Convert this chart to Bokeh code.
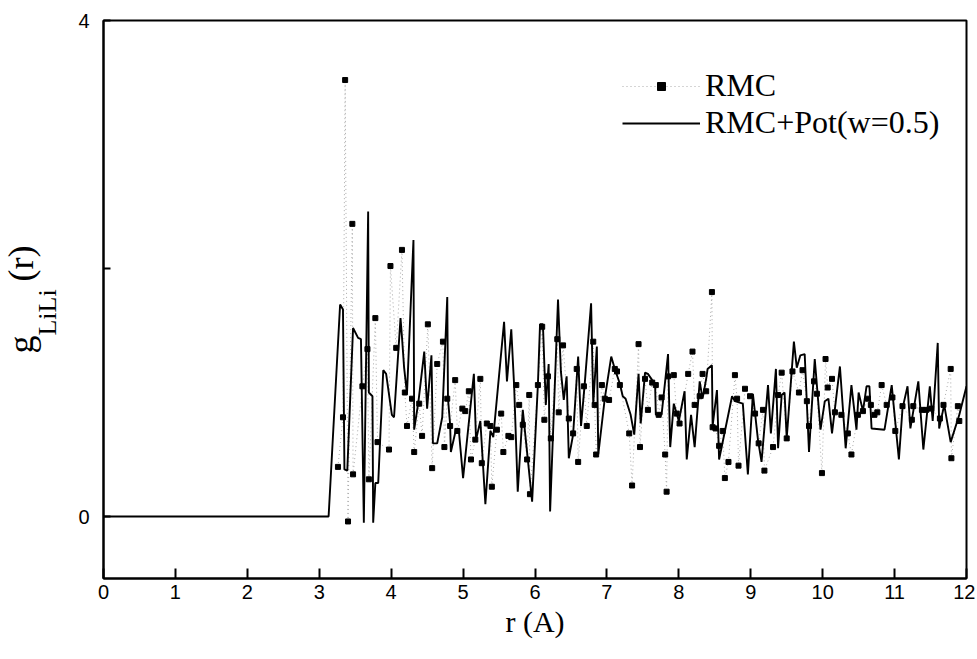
from bokeh.plotting import figure
from bokeh.models import FixedTicker, Legend, LegendItem, Title
from bokeh.embed import file_html
from bokeh.resources import INLINE

# RMC+Pot(w=0.5) curve (solid line)
r_pot = [0.0, 3.13, 3.29, 3.33, 3.35, 3.39, 3.47, 3.54, 3.58, 3.62, 3.68, 3.69, 3.74, 3.75,
         3.78, 3.82, 3.89, 3.93, 4.01, 4.04, 4.13, 4.15, 4.18, 4.22, 4.31, 4.32, 4.38, 4.46,
         4.50, 4.56, 4.58, 4.64, 4.71, 4.78, 4.79, 4.82, 4.83, 4.90, 4.94, 5.00, 5.15, 5.18,
         5.24, 5.31, 5.38, 5.42, 5.57, 5.61, 5.67, 5.71, 5.76, 5.83, 5.96, 6.04, 6.07, 6.11,
         6.15, 6.19, 6.21, 6.32, 6.36, 6.40, 6.44, 6.47, 6.53, 6.60, 6.64, 6.69, 6.78, 6.81,
         6.86, 6.88, 6.97, 7.06, 7.11, 7.18, 7.22, 7.26, 7.33, 7.38, 7.44, 7.47, 7.53, 7.57,
         7.63, 7.67, 7.68, 7.76, 7.85, 7.88, 7.93, 8.00, 8.08, 8.11, 8.17, 8.22, 8.29, 8.33,
         8.38, 8.40, 8.46, 8.47, 8.53, 8.56, 8.74, 8.78, 8.89, 8.96, 9.03, 9.10, 9.15, 9.24,
         9.28, 9.35, 9.38, 9.43, 9.47, 9.50, 9.60, 9.64, 9.69, 9.75, 9.81, 9.89, 9.97, 10.03,
         10.08, 10.13, 10.24, 10.32, 10.40, 10.47, 10.50, 10.56, 10.61, 10.65, 10.68, 10.86,
         10.96, 11.06, 11.11, 11.18, 11.22, 11.33, 11.40, 11.49, 11.53, 11.60, 11.62, 11.69,
         11.78, 11.90, 12.0]
g_pot = [0.0, 0.0, 1.71, 1.67, 0.38, 0.37, 1.52, 1.44, 1.43, -0.05, 2.46, 1.00, 0.97, -0.05,
         0.27, 0.27, 1.18, 1.15, 0.82, 0.80, 1.60, 1.45, 1.20, 0.99, 2.23, 0.70, 0.93, 1.33,
         0.87, 1.30, 0.59, 0.59, 0.80, 1.77, 0.95, 0.74, 0.52, 0.70, 0.70, 0.31, 1.15, 0.62,
         0.77, 0.10, 0.69, 0.64, 1.57, 1.09, 1.51, 1.05, 0.20, 0.86, 0.12, 1.06, 1.55, 1.55,
         0.90, 1.23, 0.04, 1.75, 1.17, 0.94, 1.13, 0.47, 0.66, 1.29, 0.73, 1.06, 1.72, 0.91,
         1.37, 0.50, 0.95, 1.29, 1.19, 1.07, 0.97, 0.95, 0.82, 0.66, 1.15, 0.75, 1.16, 1.15,
         1.10, 1.07, 0.82, 0.82, 1.31, 0.56, 0.91, 0.77, 1.01, 0.46, 0.82, 0.56, 1.09, 0.95,
         1.11, 1.19, 1.22, 0.73, 1.02, 0.46, 0.97, 0.93, 0.91, 0.34, 0.99, 0.62, 0.44, 1.06,
         0.67, 1.19, 0.55, 0.98, 1.00, 0.63, 1.41, 1.20, 1.30, 1.31, 0.52, 1.27, 0.70, 0.93,
         0.95, 0.67, 1.21, 0.55, 1.06, 0.70, 1.00, 0.85, 1.05, 1.05, 0.71, 0.70,
         1.06, 0.46, 0.87, 1.05, 0.71, 1.09, 0.54, 1.05, 0.77, 1.40, 0.71, 0.90,
         0.60, 0.82, 1.05]

# RMC points
r_rmc = [3.26, 3.33, 3.36, 3.40, 3.46, 3.47, 3.60, 3.67, 3.69, 3.78, 3.81, 3.97, 3.99, 4.07,
         4.15, 4.19, 4.22, 4.29, 4.32, 4.39, 4.43, 4.51, 4.57, 4.64, 4.72, 4.74, 4.78, 4.82,
         4.89, 4.92, 4.99, 5.03, 5.08, 5.11, 5.17, 5.24, 5.26, 5.33, 5.38, 5.40, 5.47, 5.53,
         5.56, 5.63, 5.67, 5.74, 5.78, 5.83, 5.89, 5.92, 5.93, 6.04, 6.10, 6.13, 6.18, 6.22,
         6.31, 6.33, 6.39, 6.47, 6.53, 6.58, 6.60, 6.68, 6.72, 6.81, 6.83, 6.85, 6.93, 6.97,
         7.03, 7.11, 7.14, 7.18, 7.31, 7.35, 7.44, 7.46, 7.53, 7.57, 7.63, 7.68, 7.72, 7.76,
         7.81, 7.83, 7.85, 7.93, 7.97, 8.01, 8.13, 8.19, 8.22, 8.29, 8.33, 8.38, 8.46, 8.47,
         8.51, 8.56, 8.61, 8.64, 8.69, 8.78, 8.81, 8.83, 8.92, 8.99, 9.06, 9.11, 9.17, 9.19,
         9.31, 9.38, 9.43, 9.50, 9.58, 9.67, 9.72, 9.78, 9.81, 9.88, 9.92, 9.99, 10.04, 10.07,
         10.13, 10.17, 10.26, 10.35, 10.40, 10.49, 10.56, 10.63, 10.67, 10.72, 10.76, 10.82,
         10.89, 10.97, 11.01, 11.11, 11.24, 11.26, 11.38, 11.44, 11.51, 11.63, 11.68, 11.78,
         11.79, 11.88, 11.90]
g_rmc = [0.40, 0.80, 3.52, -0.04, 2.36, 0.34, 1.05, 1.35, 0.30, 1.60, 0.60, 0.54, 2.02, 1.36,
         2.15, 1.00, 0.73, 0.95, 0.52, 0.91, 0.65, 1.55, 0.39, 1.23, 1.41, 0.56, 0.95, 0.73,
         1.10, 0.69, 0.87, 0.85, 1.01, 0.46, 0.62, 1.11, 0.43, 0.75, 0.73, 0.24, 0.70, 0.83,
         0.52, 0.65, 0.64, 1.06, 0.90, 0.74, 0.46, 0.98, 0.18, 1.06, 1.53, 0.78, 1.13, 0.63,
         1.43, 0.84, 1.38, 0.79, 0.67, 1.19, 0.44, 1.05, 0.73, 1.41, 0.90, 0.50, 1.06, 0.95,
         0.94, 1.19, 1.17, 1.06, 0.67, 0.25, 1.39, 0.56, 1.11, 0.86, 1.08, 1.06, 0.82, 0.96,
         0.50, 0.20, 1.13, 1.14, 0.83, 0.75, 1.15, 1.33, 0.90, 0.97, 1.15, 1.01, 1.81, 0.72,
         0.71, 0.57, 0.69, 0.31, 0.44, 1.14, 0.95, 0.41, 1.03, 0.97, 0.83, 0.59, 0.86, 0.37,
         0.56, 0.98, 1.16, 0.63, 1.17, 1.00, 1.18, 0.93, 0.73, 1.09, 0.99, 0.35, 1.27, 1.04,
         1.11, 0.84, 0.82, 0.67, 0.50, 0.82, 0.85, 0.95, 0.90, 0.82, 0.84, 1.06,
         0.90, 0.96, 0.69, 0.89, 0.78, 0.89, 0.86, 0.86, 0.87, 0.79, 0.90, 1.19,
         0.47, 0.89, 0.77]

x_ticks = list(range(0, 13))
y_ticks = [0, 2, 4]
y_tick_labels = {0: "0", 2: "", 4: "4"}

NB = "\u00a0"

p = figure(width=975, height=655, x_range=(0, 12), y_range=(-0.5, 4.0),
           min_border_left=103, min_border_right=9, min_border_top=20, min_border_bottom=77,
           output_backend="svg", toolbar_location=None)
p.grid.visible = False
p.background_fill_color = "white"
p.border_fill_color = "white"
p.outline_line_color = "black"
p.outline_line_width = 2

for ax in (p.xaxis, p.yaxis):
    ax.axis_line_color = "black"
    ax.axis_line_width = 2
    ax.major_tick_line_color = "black"
    ax.major_tick_line_width = 2
    ax.minor_tick_line_color = None
    ax.major_tick_out = 0
    ax.major_label_text_font = "Liberation Sans"
    ax.major_label_text_font_size = "20px"
    ax.major_label_text_color = "black"

p.xaxis.ticker = FixedTicker(ticks=x_ticks)
p.xaxis.major_tick_in = 10
p.xaxis.major_label_standoff = 6
p.xaxis.axis_label = "r (A)"
p.xaxis.axis_label_text_font = "Liberation Serif"
p.xaxis.axis_label_text_font_style = "normal"
p.xaxis.axis_label_text_font_size = "30px"
p.xaxis.axis_label_text_color = "black"
p.xaxis.axis_label_standoff = 3

p.yaxis.ticker = FixedTicker(ticks=y_ticks)
p.yaxis.major_label_overrides = y_tick_labels
p.yaxis.major_tick_in = 7
p.yaxis.major_label_standoff = 14
# subscript part of the y label
p.yaxis.axis_label = "LiLi" + NB * 4
p.yaxis.axis_label_text_font = "Liberation Serif"
p.yaxis.axis_label_text_font_style = "normal"
p.yaxis.axis_label_text_font_size = "26px"
p.yaxis.axis_label_text_color = "black"
p.yaxis.axis_label_standoff = 13

rmc_line = p.line(r_rmc, g_rmc, line_color="#aaaaaa", line_width=1, line_dash="1 3")
rmc_pts = p.scatter(r_rmc, g_rmc, marker="square", size=5, fill_color="black", line_color="black")
pot_line = p.line(r_pot, g_pot, line_color="black", line_width=1.9)

legend = Legend(items=[LegendItem(label="RMC", renderers=[rmc_line, rmc_pts]),
                       LegendItem(label="RMC+Pot(w=0.5)", renderers=[pot_line])],
                location=(519, 437), border_line_color=None, background_fill_alpha=0,
                glyph_width=78, glyph_height=20, label_standoff=5, padding=0, spacing=-9,
                label_text_font="Liberation Serif", label_text_font_size="32px",
                label_text_color="black")
p.add_layout(legend)

# main part of the y label: "g" and "(r)" around the subscript
ytitle = Title(text="g" + NB * 6 + "(r)", align="center", standoff=-21,
               text_font="Liberation Serif", text_font_size="36px",
               text_font_style="normal", text_color="black")
p.add_layout(ytitle, "left")

open("out.html", "w").write(file_html(p, INLINE))
